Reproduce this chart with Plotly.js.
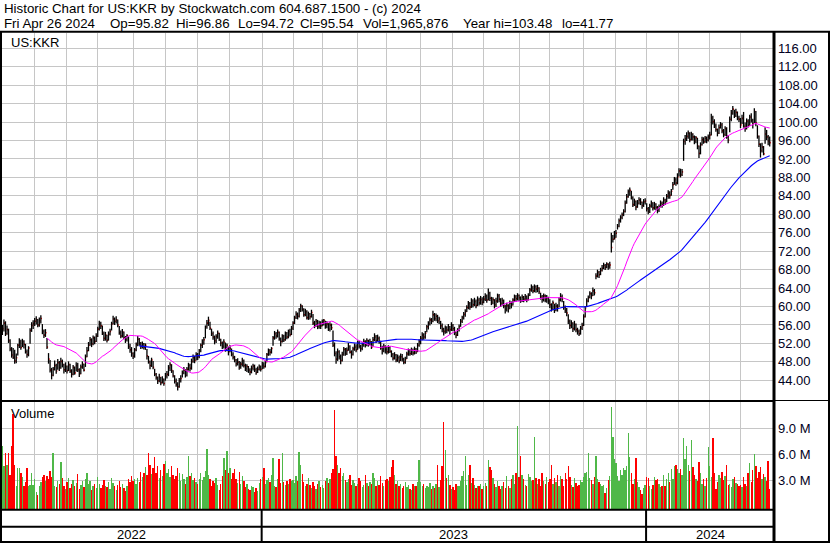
<!DOCTYPE html>
<html>
<head>
<meta charset="utf-8">
<script src="https://cdn.plot.ly/plotly-3.0.1.min.js"></script>
<style>
html,body{margin:0;padding:0;background:#fff;}
#chart{width:830px;height:543px;}
</style>
</head>
<body>
<div id="chart"></div>
<script>
// ---------------- DATA ----------------
const startDate = '2022-05-02';
const endDate = '2024-04-26';
const holidays = ['2022-05-30','2022-06-20','2022-07-04','2022-09-05','2022-11-24','2022-12-26',
  '2023-01-02','2023-01-16','2023-02-20','2023-04-07','2023-05-29','2023-06-19','2023-07-04',
  '2023-09-04','2023-11-23','2023-12-25','2024-01-01','2024-01-15','2024-02-19','2024-03-29'];

const closes = [
 55.2,56.4,54.1,55.0,52.6,50.8,49.5,49.0,48.2,48.9,51.6,52.3,51.1,52.4,51.8,50.2,49.6,51.0,54.8,55.9,56.3,
 56.8,57.2,56.0,56.9,57.4,54.6,53.8,54.3,51.2,48.6,46.2,45.1,46.4,47.2,46.0,47.8,46.7,48.1,47.4,46.3,47.0,
 46.1,47.4,46.0,45.3,46.8,45.6,47.2,46.3,45.4,46.9,47.5,46.2,49.1,50.4,51.6,52.8,51.9,53.2,52.4,53.6,
 55.1,56.3,55.8,54.2,53.1,53.8,52.7,54.0,54.6,56.2,57.3,56.8,57.1,56.0,54.3,53.6,54.5,53.2,52.8,53.7,51.3,50.6,49.8,
 49.2,50.6,51.8,52.9,52.1,51.4,51.9,51.2,51.6,49.3,48.0,47.2,48.4,46.8,45.3,44.6,43.9,44.8,43.5,44.2,43.3,
 44.9,45.3,46.7,47.4,46.1,45.0,43.8,43.1,42.6,43.9,44.4,45.6,46.2,45.1,46.4,47.2,46.6,48.1,48.9,48.3,49.6,
 49.1,50.4,51.6,52.2,52.8,55.6,56.4,57.0,55.3,54.1,53.4,52.6,53.5,54.2,52.9,52.1,51.4,52.3,50.8,51.6,50.2,
 50.9,49.6,49.0,48.4,47.6,47.9,46.8,47.5,48.3,47.2,46.5,47.0,46.2,45.8,46.6,47.1,46.3,45.7,46.4,46.9,46.4,
 47.3,47.0,47.8,49.6,50.4,50.1,50.9,53.2,54.1,53.6,54.4,53.0,52.4,53.6,52.8,54.2,53.4,54.6,53.9,55.3,
 56.4,57.6,58.3,57.9,59.2,60.1,59.4,58.2,58.9,57.6,58.4,57.8,58.7,56.4,55.9,56.8,55.6,56.3,55.8,
 56.6,57.0,55.8,56.2,55.1,56.0,55.4,51.6,49.8,48.6,50.2,49.1,48.3,49.6,50.7,49.8,50.5,51.3,50.1,49.6,50.8,51.2,50.6,
 52.1,51.4,50.9,51.8,52.4,51.6,52.6,51.9,52.3,51.2,52.8,53.4,52.6,53.1,52.4,51.0,50.4,51.3,50.6,
 50.2,51.1,50.3,49.6,48.8,49.5,48.4,48.9,48.2,49.1,48.6,47.9,48.5,49.7,50.4,49.8,50.6,49.9,50.8,50.2,51.6,52.4,
 53.1,53.8,53.4,54.2,55.6,56.3,57.1,56.8,58.2,57.4,57.9,56.9,57.3,55.8,55.1,54.6,55.4,54.9,55.6,55.0,55.9,
 55.2,54.3,53.8,54.9,55.6,56.8,57.6,58.3,58.9,59.8,60.6,59.9,61.2,60.4,61.1,60.2,61.4,60.8,61.5,60.9,
 61.6,62.2,61.4,62.9,61.8,60.9,61.5,60.4,61.2,62.3,61.6,60.7,61.3,60.1,59.4,60.2,59.6,60.8,60.3,61.4,62.1,61.7,62.4,
 61.9,61.3,62.0,61.6,62.2,61.5,62.4,63.6,64.1,63.4,64.3,63.8,64.0,63.2,62.1,61.6,62.3,61.4,61.9,61.2,
 60.4,59.6,60.8,59.2,60.1,59.8,61.4,62.1,61.6,59.8,59.1,58.6,56.8,55.9,56.4,55.2,56.1,55.0,54.6,54.1,55.3,55.9,
 57.8,59.6,61.2,61.9,62.8,62.3,63.4,63.0,66.6,67.4,66.9,67.8,68.3,68.9,68.5,69.2,68.7,69.0,72.8,74.6,74.9,
 75.9,77.4,78.6,79.3,79.9,80.6,82.4,83.8,84.9,85.2,83.6,82.1,82.8,81.6,82.4,83.1,82.6,81.9,82.7,82.9,
 81.2,80.6,81.8,82.5,81.4,82.2,81.5,80.9,81.6,82.4,82.0,83.1,82.6,83.9,84.6,84.1,85.0,86.4,87.5,86.8,88.1,
 89.4,88.6,89.2,95.8,96.4,96.9,97.6,96.2,97.4,96.8,95.9,96.6,94.8,93.2,95.1,96.2,95.7,96.5,96.1,96.8,
 97.2,100.9,100.1,99.2,98.4,97.6,98.8,99.4,98.1,97.3,98.6,96.8,96.1,100.6,101.9,102.8,101.4,102.1,100.8,100.6,
 99.4,100.8,99.1,98.6,100.2,99.3,101.1,100.4,99.6,102.3,99.8,96.9,95.2,93.8,94.6,93.1,97.4,96.8,95.9,95.54
];

const highs = [
 56.0,57.2,56.8,55.9,55.2,52.9,51.2,51.0,50.6,49.8,51.9,53.1,52.8,53.0,52.7,51.9,50.7,51.4,55.3,56.6,57.0,
 57.5,57.9,57.3,57.6,58.1,56.2,55.0,55.1,53.2,49.9,48.4,46.7,46.9,48.3,47.6,48.6,48.2,48.9,48.5,47.6,47.9,
 47.2,48.1,47.6,46.4,47.3,47.0,47.9,47.8,46.6,47.4,48.1,47.6,49.6,51.2,52.3,53.4,53.1,53.7,53.5,54.2,
 55.6,56.9,56.7,55.9,54.6,54.5,53.9,54.6,55.2,56.7,58.0,57.6,57.9,57.2,55.8,54.8,55.1,54.6,53.6,54.0,53.5,51.9,51.2,
 50.1,51.0,52.2,53.6,53.2,52.3,52.4,52.1,52.0,50.8,49.3,48.3,48.9,48.2,46.5,45.6,44.8,45.4,44.7,44.9,44.4,
 45.6,46.0,47.3,47.9,47.5,46.2,45.1,44.4,43.6,44.5,45.1,46.1,46.9,46.4,46.9,47.8,47.6,48.7,49.6,49.3,50.1,
 49.9,50.8,52.0,52.9,53.4,55.9,57.1,57.8,56.7,55.2,54.6,53.7,54.0,54.8,54.3,53.0,52.4,52.9,52.2,52.0,51.3,
 51.6,50.9,50.1,49.3,48.6,48.8,48.2,48.0,48.9,48.5,47.6,47.5,47.1,46.6,47.2,47.6,47.4,46.7,47.0,47.4,47.2,
 48.0,47.9,48.3,49.9,50.9,50.8,51.2,53.6,54.7,54.5,55.0,54.6,53.3,54.0,53.9,54.6,54.5,55.0,55.2,55.8,
 56.8,58.0,59.0,58.7,59.7,60.6,60.3,59.6,59.5,59.2,58.9,58.6,59.3,58.4,56.9,57.3,57.1,56.9,56.8,
 57.2,57.3,56.9,56.8,56.4,56.6,56.3,54.8,52.2,50.3,50.9,50.5,49.6,50.2,51.2,51.0,51.1,52.1,51.6,50.5,51.3,52.0,51.8,
 52.6,52.5,51.7,52.2,53.0,52.7,53.1,52.8,53.0,52.5,53.4,54.2,53.8,53.9,53.5,52.6,51.5,51.9,51.6,
 51.3,51.6,51.4,50.5,49.9,50.1,49.7,49.6,49.4,49.8,49.7,48.9,49.1,50.2,50.9,50.8,51.1,50.9,51.3,51.0,52.1,52.9,
 53.6,54.4,54.2,54.7,56.0,56.8,57.6,57.5,59.1,58.6,58.5,58.2,57.8,56.9,56.3,55.4,55.9,55.7,56.2,55.8,56.6,
 56.2,55.6,54.6,55.3,56.1,57.3,58.0,58.8,59.4,60.3,61.2,61.0,61.8,61.6,61.9,61.5,62.2,61.9,62.3,62.0,
 62.3,62.9,62.6,63.9,63.2,62.1,62.0,61.6,61.9,62.8,62.7,61.8,61.9,61.5,60.4,60.8,60.5,61.3,61.1,61.8,62.6,62.5,62.9,
 62.6,62.2,62.6,62.3,62.7,62.4,62.9,64.0,64.8,64.5,64.8,64.6,64.7,64.2,63.0,62.5,62.8,62.6,62.5,62.1,
 61.6,60.7,61.3,60.6,60.8,60.5,62.0,62.9,62.6,61.2,60.2,59.7,58.3,57.2,57.0,56.6,56.9,56.3,55.4,55.0,55.8,56.5,
 58.3,60.1,61.8,62.4,63.3,63.1,64.1,63.8,67.2,68.0,67.7,68.4,69.0,69.5,69.2,69.6,69.4,69.7,76.0,75.5,76.4,
 76.6,77.9,79.1,79.8,80.4,81.1,83.0,84.4,85.4,85.8,85.1,83.9,83.4,83.0,83.1,83.7,83.5,82.8,83.3,83.5,
 82.4,81.6,82.3,83.0,82.6,82.7,82.4,81.8,82.1,83.0,82.8,83.7,83.4,84.4,85.2,85.0,85.5,87.0,88.1,88.0,88.9,
 90.0,89.9,89.8,96.4,97.2,97.8,98.2,97.8,97.9,97.6,97.1,97.0,96.6,94.9,95.6,96.8,96.7,97.0,96.9,97.3,
 97.9,101.8,101.4,100.6,99.7,98.6,99.5,100.0,99.8,98.5,99.1,98.9,97.2,101.2,102.6,103.48,102.7,102.9,102.3,101.4,
 100.9,101.6,102.2,99.9,100.8,100.6,101.6,101.9,100.7,103.0,102.4,99.3,97.1,95.4,95.5,94.8,98.9,98.3,97.2,96.86
];

const lows = [
 53.8,54.6,53.6,53.9,52.1,50.3,48.9,48.6,47.6,47.7,49.4,51.0,50.6,51.2,50.9,49.8,48.9,49.2,51.9,54.5,55.1,
 55.8,56.1,55.5,55.6,56.3,54.0,53.2,53.4,50.8,47.6,45.7,44.2,44.9,46.1,45.4,46.3,46.0,46.5,46.8,45.5,45.8,
 45.5,46.0,45.6,44.6,45.1,45.2,45.9,45.8,44.7,45.3,46.5,45.9,46.9,49.0,50.3,51.5,51.2,51.6,51.8,52.3,
 53.4,54.8,55.1,53.8,52.5,52.6,52.2,52.6,53.7,54.8,56.1,56.0,56.3,55.5,53.9,53.1,53.3,52.9,52.1,52.4,50.8,50.0,49.1,
 48.6,48.9,50.3,51.4,51.5,50.8,50.9,50.7,50.6,48.5,47.6,46.4,46.9,46.4,44.9,44.1,43.2,43.6,42.9,43.3,42.8,
 43.9,44.4,44.9,46.0,45.6,44.6,43.3,42.6,41.77,42.4,43.5,44.6,45.3,44.6,44.8,46.1,45.9,46.3,47.8,47.7,48.3,
 48.4,48.8,50.1,51.0,51.7,53.1,55.2,55.8,54.9,53.6,52.8,51.8,52.1,53.0,52.5,51.4,50.8,50.9,50.2,50.3,49.4,
 50.1,49.2,48.5,47.9,47.0,47.2,46.3,46.5,47.0,46.8,46.0,45.8,45.6,45.1,45.5,46.1,45.8,45.2,45.6,46.1,45.9,
 46.4,46.5,46.8,47.9,49.3,49.4,49.8,51.5,52.8,53.0,53.3,52.6,51.4,52.2,52.3,52.6,52.9,53.1,53.5,53.8,
 54.9,56.2,57.3,57.2,57.6,58.8,58.9,57.8,57.9,57.2,57.1,57.2,57.6,56.0,55.3,55.6,55.1,55.2,55.1,
 55.7,55.9,55.2,55.3,54.7,54.6,54.9,51.2,49.2,47.6,48.2,48.5,47.5,48.1,49.3,49.3,49.5,50.4,49.8,48.7,49.4,50.4,50.1,
 50.6,50.9,50.2,50.5,51.3,51.1,51.4,51.3,51.6,50.8,51.3,52.5,52.1,52.4,51.9,50.6,49.6,50.1,49.8,
 49.6,49.8,49.9,49.0,48.3,48.5,47.9,48.0,47.7,48.2,48.1,47.5,47.6,48.6,49.3,49.3,49.5,49.4,49.6,49.7,50.1,51.3,
 51.8,52.7,52.8,53.0,54.4,55.0,55.9,56.2,56.6,56.9,56.8,56.4,56.2,55.1,54.4,53.7,54.1,54.2,54.6,53.9,54.7,
 54.7,53.8,53.1,53.6,54.6,55.6,56.4,57.2,57.8,58.8,59.4,59.3,59.7,59.8,60.1,59.6,60.1,60.2,60.4,60.3,
 60.7,61.2,60.8,61.3,61.2,60.3,60.5,59.6,59.9,60.8,60.9,59.9,60.2,59.6,58.5,58.9,58.7,59.4,59.6,60.2,61.0,61.0,61.3,
 61.2,60.8,61.0,60.9,61.2,60.9,61.3,62.3,63.2,62.9,63.1,63.0,63.1,62.7,61.5,60.8,61.1,60.9,60.8,60.5,
 59.7,58.9,59.2,58.6,59.0,58.9,59.9,61.1,60.9,59.3,58.6,57.9,56.2,55.1,55.3,54.5,54.8,54.4,53.9,53.6,53.9,54.9,
 55.8,57.6,59.9,60.9,61.8,61.6,62.3,62.4,65.9,66.3,66.2,66.8,67.6,68.1,67.9,68.3,68.0,68.2,71.7,73.9,74.5,
 74.9,76.7,77.2,78.2,78.9,79.6,80.4,82.3,83.6,84.0,83.2,81.6,81.8,80.9,81.4,82.1,82.0,81.2,81.6,82.1,
 80.6,80.0,80.3,81.4,80.8,81.0,80.9,80.2,80.5,81.5,81.4,81.8,82.0,82.6,83.4,83.4,84.0,85.3,86.4,86.2,86.5,
 88.2,88.0,88.3,91.6,95.1,95.9,96.4,95.6,96.0,96.0,95.2,95.4,94.1,92.2,93.0,94.9,95.3,95.5,95.4,95.8,
 96.2,97.1,99.5,98.7,97.9,96.9,97.4,98.6,97.6,96.7,97.0,96.4,95.4,97.8,100.2,101.6,100.9,101.1,100.4,100.0,
 98.7,99.6,98.8,97.9,98.4,98.8,99.2,99.9,98.6,99.8,99.1,96.4,94.6,92.3,93.4,92.8,95.3,96.1,95.0,94.72
];

// volume in millions of shares
const volumes = [
 6.9,4.6,6.1,4.8,6.1,3.6,6.9,10.7,4.8,2.3,4.4,4.4,3.8,3.4,2.3,2.8,4.4,2.3,2.5,3.8,2.5,
 3.1,1.6,1.3,2.4,2.8,3.4,3.6,2.9,3.5,3.2,4.1,3.4,6.2,2.3,2.2,2.9,2.6,5.1,3.3,2.4,2.0,
 2.8,3.3,2.1,2.6,3.0,2.4,2.7,3.7,2.0,2.5,2.9,2.2,3.1,3.8,2.6,2.9,1.9,2.3,2.6,2.1,
 3.4,2.6,2.1,2.5,3.0,2.4,2.2,2.8,2.0,3.3,2.7,2.3,1.9,2.5,2.9,2.2,2.6,2.1,1.8,2.4,3.2,2.8,3.5,
 2.9,3.1,2.6,3.3,2.8,4.0,3.4,3.9,4.5,3.6,6.2,4.8,3.7,4.4,5.7,3.9,4.6,3.3,4.2,3.5,4.9,
 5.2,3.8,4.3,3.4,4.6,3.6,3.1,3.5,4.4,3.9,2.9,3.7,3.2,2.6,3.4,5.8,3.5,3.9,3.0,3.3,2.8,
 2.6,3.2,3.8,3.0,3.4,4.1,6.6,3.6,3.1,2.4,2.9,2.7,3.3,2.5,1.9,2.6,3.5,5.6,4.2,6.4,3.8,
 4.4,3.1,3.9,4.3,3.2,2.7,4.0,2.6,3.5,2.9,2.2,2.6,2.0,1.9,2.4,2.2,1.6,2.1,1.8,2.7,3.1,
 3.4,4.4,2.6,3.0,3.3,2.8,3.6,5.6,2.4,2.2,3.1,5.5,2.7,6.1,2.8,2.5,2.9,2.6,3.2,2.9,
 3.0,2.7,3.5,2.9,6.3,4.8,3.7,2.8,2.3,2.6,3.3,2.5,2.1,2.8,2.4,2.0,2.6,2.9,2.2,
 2.5,2.1,2.9,3.3,2.7,3.1,3.8,4.3,11.1,5.8,4.8,3.9,4.4,3.5,3.9,3.0,2.8,3.2,3.6,2.5,3.0,2.7,2.4,
 2.6,3.3,2.9,2.2,2.5,3.6,2.7,2.4,2.8,2.6,3.8,3.3,2.3,2.9,2.5,3.5,2.7,2.4,3.0,
 3.1,2.9,3.4,4.5,5.3,3.6,2.6,2.9,2.4,2.6,2.1,2.3,2.8,2.2,2.5,2.0,1.9,2.6,2.4,2.3,2.8,5.3,
 2.8,2.3,2.6,2.1,2.3,2.2,2.7,2.0,2.4,2.1,2.6,4.8,2.2,3.0,4.6,9.7,6.5,3.3,3.6,2.5,2.0,
 2.2,1.9,2.6,2.3,2.4,2.9,3.5,4.1,5.8,2.5,3.6,4.8,2.7,3.3,2.5,2.1,2.4,2.3,2.6,2.0,
 2.3,2.7,2.4,5.3,4.5,4.2,3.3,2.6,2.2,2.9,2.4,2.0,2.3,2.8,2.1,3.5,2.4,2.1,3.2,3.6,2.6,3.9,9.3,
 3.4,5.8,3.6,3.2,2.5,2.3,3.7,3.4,2.9,3.0,8.0,3.3,2.6,3.1,2.4,3.9,2.9,2.6,3.4,2.8,
 3.1,4.8,2.6,3.3,2.8,3.6,2.3,3.5,3.1,2.4,3.8,3.2,4.6,3.4,2.5,2.2,3.3,2.7,2.3,2.5,3.0,2.8,
 3.4,3.8,4.0,6.2,3.3,3.0,2.6,3.4,5.8,3.2,2.8,2.6,2.4,2.5,1.5,2.1,3.0,3.5,11.4,8.0,5.4,
 5.0,3.5,2.9,4.2,3.6,4.4,4.2,4.6,8.4,5.7,3.9,2.6,3.2,5.6,2.8,2.2,1.9,1.4,2.1,2.5,
 3.4,3.3,2.4,2.0,2.5,3.4,3.0,3.2,2.6,2.2,2.3,3.6,2.3,3.2,3.9,2.8,4.3,3.1,4.6,4.8,4.3,
 3.9,4.3,3.6,7.9,5.4,7.0,4.8,4.1,7.7,4.5,3.6,3.1,2.9,5.1,3.8,2.6,3.2,2.4,3.3,6.8,
 4.6,3.4,7.9,3.8,2.0,2.8,3.6,3.3,4.0,3.0,3.5,4.8,2.5,2.6,2.2,3.2,3.4,2.7,2.6,2.4,
 2.5,2.2,3.4,2.6,2.3,3.9,5.0,2.8,4.2,6.0,4.6,3.3,4.0,4.5,3.2,3.7,3.4,2.9,5.2,1.97
];

const priceTicks = [44,48,52,56,60,64,68,72,76,80,84,88,92,96,100,104,108,112,116];
const volumeTicks = [3,6,9];
const volumeTickText = ['3.0 M','6.0 M','9.0 M'];
const titleLine1 = 'Historic Chart for US:KKR by Stockwatch.com 604.687.1500 - (c) 2024';
const titleLine2Parts = ['Fri Apr 26 2024','Op=95.82','Hi=96.86','Lo=94.72','Cl=95.54','Vol=1,965,876','Year hi=103.48','lo=41.77'];
const symbolLabel = 'US:KKR';
const maShort = 30, maLong = 90;

// ---------------- build trading days ----------------
const dates = [];
{
  const d = new Date(startDate + 'T00:00:00Z');
  const end = new Date(endDate + 'T00:00:00Z');
  while (d <= end) {
    const wd = d.getUTCDay();
    const iso = d.toISOString().slice(0, 10);
    if (wd !== 0 && wd !== 6 && holidays.indexOf(iso) < 0) dates.push(iso);
    d.setUTCDate(d.getUTCDate() + 1);
  }
}
const N = dates.length;
[closes, highs, lows, volumes].forEach((a, k) => {
  if (a.length !== N) throw new Error('array ' + k + ' length ' + a.length + ' != ' + N);
});

const idx = dates.map((_, i) => i);
const monthStarts = [], yearStarts = [];
for (let i = 1; i < N; i++) {
  if (dates[i].slice(5, 7) !== dates[i - 1].slice(5, 7)) monthStarts.push(i);
  if (dates[i].slice(0, 4) !== dates[i - 1].slice(0, 4)) yearStarts.push(i);
}

function sma(arr, n) {
  return arr.map((_, i) => {
    if (i < n - 1) return null;
    let s = 0;
    for (let j = i - n + 1; j <= i; j++) s += arr[j];
    return s / n;
  });
}

// ---------------- geometry helpers (layout decoration only) ----------------
const W = 830, H = 543;
const PL = 2, PR = 775, PT = 33, PB = 509;
const px = p => (p - PL) / (PR - PL);
const py = p => (PB - p) / (PB - PT);
const XR = [-0.26, 502.44];

// ---------------- traces ----------------
const hlX = [], hlY = [], clX = [], clY = [];
for (let i = 0; i < N; i++) {
  hlX.push(i, i, null); hlY.push(lows[i], highs[i], null);
  clX.push(i, i + 0.7, null); clY.push(closes[i], closes[i], null);
}
const volColors = volumes.map((_, i) => {
  if (i === 0) return '#4fb848';
  if (closes[i] > closes[i - 1]) return '#4fb848';
  if (closes[i] < closes[i - 1]) return '#ff0000';
  return '#a0a0a0';
});
const VBASE = -0.31;

const traces = [
  { type: 'bar', x: idx, y: volumes.map(v => v - VBASE), base: VBASE, width: 0.9,
    marker: { color: volColors, line: { width: 0 } }, xaxis: 'x', yaxis: 'y2', hoverinfo: 'skip' },
  { type: 'scatter', mode: 'lines', x: clX, y: clY, line: { color: '#ff0000', width: 1.6 },
    xaxis: 'x', yaxis: 'y', hoverinfo: 'skip' },
  { type: 'scatter', mode: 'lines', x: hlX, y: hlY, line: { color: '#000000', width: 1.3 },
    xaxis: 'x', yaxis: 'y', hoverinfo: 'skip' },
  { type: 'scatter', mode: 'lines', x: idx, y: sma(closes, maLong), line: { color: '#0000ff', width: 1.1 },
    xaxis: 'x', yaxis: 'y', hoverinfo: 'skip' },
  { type: 'scatter', mode: 'lines', x: idx, y: sma(closes, maShort), line: { color: '#ff00ff', width: 1 },
    xaxis: 'x', yaxis: 'y', hoverinfo: 'skip' }
];

// ---------------- layout ----------------
const FONT = 'Arial, "Liberation Sans", sans-serif';
const line = (x0, y0, x1, y1, w) => ({ type: 'line', xref: 'paper', yref: 'paper',
  x0: px(x0), y0: py(y0), x1: px(x1), y1: py(y1), line: { color: '#000', width: w }, layer: 'above' });

const shapes = [
  line(0, 31.8, W, 31.8, 2),        // header rule
  line(1, 31, 1, 542, 2),           // left border
  line(774, 31, 774, 542, 3),       // axis border
  line(829, 31, 829, 542, 2),       // outer right border
  line(0, 401, 775, 401, 2),        // price / volume separator
  line(775, 400.5, 829, 400.5, 1),
  line(0, 509.8, 775, 509.8, 2),    // volume bottom
  line(0, 526.8, 775, 526.8, 2),    // date strip row
  line(0, 542, W, 542, 2)           // bottom
];
yearStarts.forEach(ys => {
  shapes.push({ type: 'line', xref: 'x', yref: 'paper', x0: ys - 0.4, x1: ys - 0.4,
    y0: py(509.8), y1: py(542), line: { color: '#000', width: 2 }, layer: 'above' });
});

const headFont = { family: FONT, size: 13.3, color: '#000' };
const annotations = [
  { text: titleLine1, xref: 'paper', yref: 'paper', x: px(1.5), y: py(8.8), xanchor: 'left', yanchor: 'middle',
    showarrow: false, font: headFont },
  { text: symbolLabel, xref: 'paper', yref: 'paper', x: px(8.5), y: py(42), xanchor: 'left', yanchor: 'middle',
    showarrow: false, font: { family: FONT, size: 13, color: '#000' } },
  { text: 'Volume', xref: 'paper', yref: 'paper', x: px(8.5), y: py(413.5), xanchor: 'left', yanchor: 'middle',
    showarrow: false, font: { family: FONT, size: 13, color: '#000' } }
];
const line2X = [1.5, 108, 174, 236, 298, 361, 461, 560];
titleLine2Parts.forEach((t, k) => {
  annotations.push({ text: t, xref: 'paper', yref: 'paper', x: px(line2X[k]), y: py(23), xanchor: 'left',
    yanchor: 'middle', showarrow: false, font: headFont });
});
const bounds = [XR[0]].concat(yearStarts.map(s => s - 0.4)).concat([XR[1]]);
for (let k = 0; k < bounds.length - 1; k++) {
  const yi = k === 0 ? 0 : yearStarts[k - 1];
  annotations.push({ text: dates[yi].slice(0, 4), xref: 'x', yref: 'paper', x: (bounds[k] + bounds[k + 1]) / 2,
    y: py(534.5), xanchor: 'center', yanchor: 'middle', showarrow: false,
    font: { family: FONT, size: 13, color: '#000' } });
}

const tickFont = { family: FONT, size: 13, color: '#000022' };
const layout = {
  width: W, height: H,
  margin: { l: PL, r: W - PR, t: PT, b: H - PB, pad: 0, autoexpand: false },
  paper_bgcolor: '#ffffff', plot_bgcolor: '#ffffff',
  showlegend: false, bargap: 0,
  font: { family: FONT, size: 13, color: '#000' },
  xaxis: { range: XR, tickmode: 'array', tickvals: monthStarts, showticklabels: false, ticks: '',
    showgrid: true, gridcolor: '#c6c6c6', gridwidth: 1, zeroline: false, showline: false, fixedrange: true },
  yaxis: { domain: [py(401), 1], range: [39.51, 119.32], side: 'right', anchor: 'x',
    tickmode: 'array', tickvals: priceTicks, ticktext: priceTicks.map(v => v.toFixed(2)),
    ticks: '', ticklabelstandoff: 2, tickfont: tickFont,
    showgrid: true, gridcolor: '#c6c6c6', gridwidth: 1, zeroline: false, showline: false, fixedrange: true },
  yaxis2: { domain: [0, py(402)], range: [VBASE, 12.03], side: 'right', anchor: 'x',
    tickmode: 'array', tickvals: volumeTicks, ticktext: volumeTickText,
    ticks: '', ticklabelstandoff: 2, tickfont: tickFont,
    showgrid: true, gridcolor: '#c6c6c6', gridwidth: 1, zeroline: false, showline: false, fixedrange: true },
  shapes: shapes,
  annotations: annotations
};

Plotly.newPlot('chart', traces, layout, { staticPlot: true, displayModeBar: false });
</script>
</body>
</html>
